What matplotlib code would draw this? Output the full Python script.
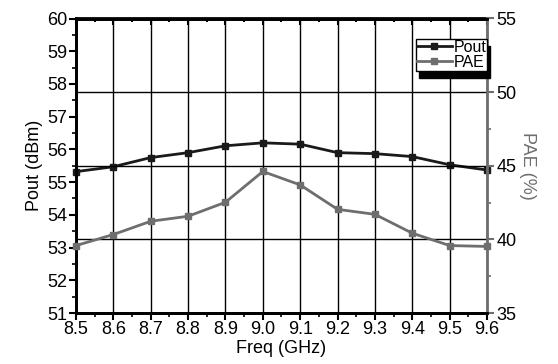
import matplotlib
matplotlib.use("Agg")
import matplotlib.pyplot as plt
from matplotlib.ticker import MultipleLocator

plt.rcParams['font.family'] = ['Liberation Sans', 'DejaVu Sans']

freq = [8.5, 8.6, 8.7, 8.8, 8.9, 9.0, 9.1, 9.2, 9.3, 9.4, 9.5, 9.6]
pout = [55.32, 55.47, 55.75, 55.90, 56.11, 56.20, 56.16, 55.90, 55.87, 55.78, 55.53, 55.37]
pae = [39.58, 40.33, 41.23, 41.57, 42.52, 44.61, 43.70, 42.04, 41.70, 40.42, 39.58, 39.52]
xticks = [8.5, 8.6, 8.7, 8.8, 8.9, 9.0, 9.1, 9.2, 9.3, 9.4, 9.5, 9.6]

gray = '#6e6e6e'
dark = '#1a1a1a'
fs = 13

fig = plt.figure(figsize=(5.58, 3.64), dpi=100)
ax = fig.add_axes([76/558, 1-313/364, (487-76)/558, (313-18.5)/364])
ax2 = ax.twinx()

ax.set_xlim(8.5, 9.6)
ax.set_ylim(51, 60)
ax2.set_ylim(35, 55)

ax.set_xticks(xticks)
ax.set_xticklabels([f"{v:.1f}" for v in xticks])
ax.xaxis.set_minor_locator(MultipleLocator(0.05))
ax.yaxis.set_major_locator(MultipleLocator(1))
ax.yaxis.set_minor_locator(MultipleLocator(0.5))
ax2.yaxis.set_major_locator(MultipleLocator(5))
ax2.yaxis.set_minor_locator(MultipleLocator(2.5))

ax.grid(True, axis='x', color='black', linewidth=1.0)
ax2.grid(True, axis='y', color='black', linewidth=1.0)

ax.tick_params(axis='both', which='major', direction='out', length=5, width=1.5,
               labelsize=fs, pad=1)
ax.tick_params(axis='both', which='minor', direction='out', length=3, width=1.2)
ax2.tick_params(axis='y', which='major', direction='out', length=5, width=1.5,
                colors=gray, labelcolor='black', labelsize=fs, pad=2)
ax2.tick_params(axis='y', which='minor', direction='out', length=3, width=1.2, colors=gray)

top = ax.secondary_xaxis('top')
top.set_xticks(xticks)
top.xaxis.set_minor_locator(MultipleLocator(0.05))
top.tick_params(axis='x', which='both', direction='in', labeltop=False, width=1.5)
top.tick_params(axis='x', which='major', length=5)
top.tick_params(axis='x', which='minor', length=3)
top.spines['top'].set_linewidth(2)

for s in ['left', 'bottom', 'top']:
    ax.spines[s].set_linewidth(2)
ax2.spines['right'].set_linewidth(2)
ax2.spines['right'].set_color(gray)
for s in ['left', 'bottom', 'top']:
    ax2.spines[s].set_linewidth(2)

l1, = ax.plot(freq, pout, color=dark, linewidth=2, marker='s', markersize=5,
              label='Pout', clip_on=False, zorder=5)
l2, = ax2.plot(freq, pae, color=gray, linewidth=2, marker='s', markersize=5,
               label='PAE', clip_on=False, zorder=5)

ax.set_xlabel('Freq (GHz)', fontsize=fs, labelpad=1)
ax.set_ylabel('Pout (dBm)', fontsize=fs, labelpad=3)
ax2.set_ylabel('PAE (%)', fontsize=fs, color=gray, rotation=270, labelpad=14)

leg = ax2.legend(handles=[l1, l2], loc='upper right', bbox_to_anchor=(1.0, 0.93),
                 fontsize=11.5, frameon=True, fancybox=False, framealpha=1,
                 edgecolor='black', borderpad=0.05, handlelength=2.2,
                 handletextpad=0.1, labelspacing=0.0, borderaxespad=0,
                 shadow={'color': 'black', 'alpha': 1, 'ox': 2, 'oy': -5})
leg.get_frame().set_linewidth(1.0)

fig.savefig('out.png', dpi=100)
